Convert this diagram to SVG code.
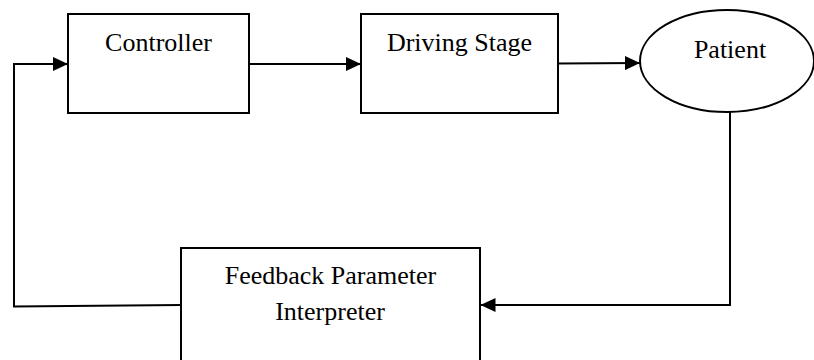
<svg xmlns="http://www.w3.org/2000/svg" width="814" height="360" viewBox="0 0 814 360">
  <defs>
    <style>
      .box { fill: #ffffff; stroke: #000000; stroke-width: 2; }
      .lbl { font-family: "Liberation Serif", "Times New Roman", serif; font-size: 26px; fill: #000000; text-anchor: middle; }
      .wire { fill: none; stroke: #000000; stroke-width: 2; }
    </style>
    <marker id="head" viewBox="0 0 15 14" refX="15" refY="7" markerWidth="15" markerHeight="14" markerUnits="userSpaceOnUse" orient="auto">
      <path d="M0,0 L15,7 L0,14 Z" fill="#000000"/>
    </marker>
  </defs>
  <rect width="814" height="360" fill="#ffffff"/>

  <g id="connectors">
    <!-- Controller to Driving Stage -->
    <line class="wire" x1="249" y1="64" x2="361" y2="64" marker-end="url(#head)"/>
    <!-- Driving Stage to Patient -->
    <line class="wire" x1="558" y1="63.5" x2="640" y2="63" marker-end="url(#head)"/>
    <!-- Patient down and back to the interpreter -->
    <polyline class="wire" points="730,112 730,305 480.5,305" marker-end="url(#head)"/>
    <!-- Interpreter back round to the controller -->
    <polyline class="wire" points="181,305 14,306.5 14,64 68,64" marker-end="url(#head)"/>
  </g>

  <g id="controller">
    <rect class="box" x="68" y="14" width="181" height="99"/>
    <text class="lbl" x="158.5" y="50.5">Controller</text>
  </g>

  <g id="driving-stage">
    <rect class="box" x="361" y="14" width="197" height="99"/>
    <text class="lbl" x="459.5" y="50.5">Driving Stage</text>
  </g>

  <g id="patient">
    <ellipse class="box" cx="727" cy="61" rx="87" ry="51"/>
    <text class="lbl" x="730" y="57.5">Patient</text>
  </g>

  <g id="feedback-interpreter">
    <rect class="box" x="181" y="248" width="299" height="120"/>
    <text class="lbl" x="330.5" y="283.5">Feedback Parameter</text>
    <text class="lbl" x="330" y="320">Interpreter</text>
  </g>
</svg>
